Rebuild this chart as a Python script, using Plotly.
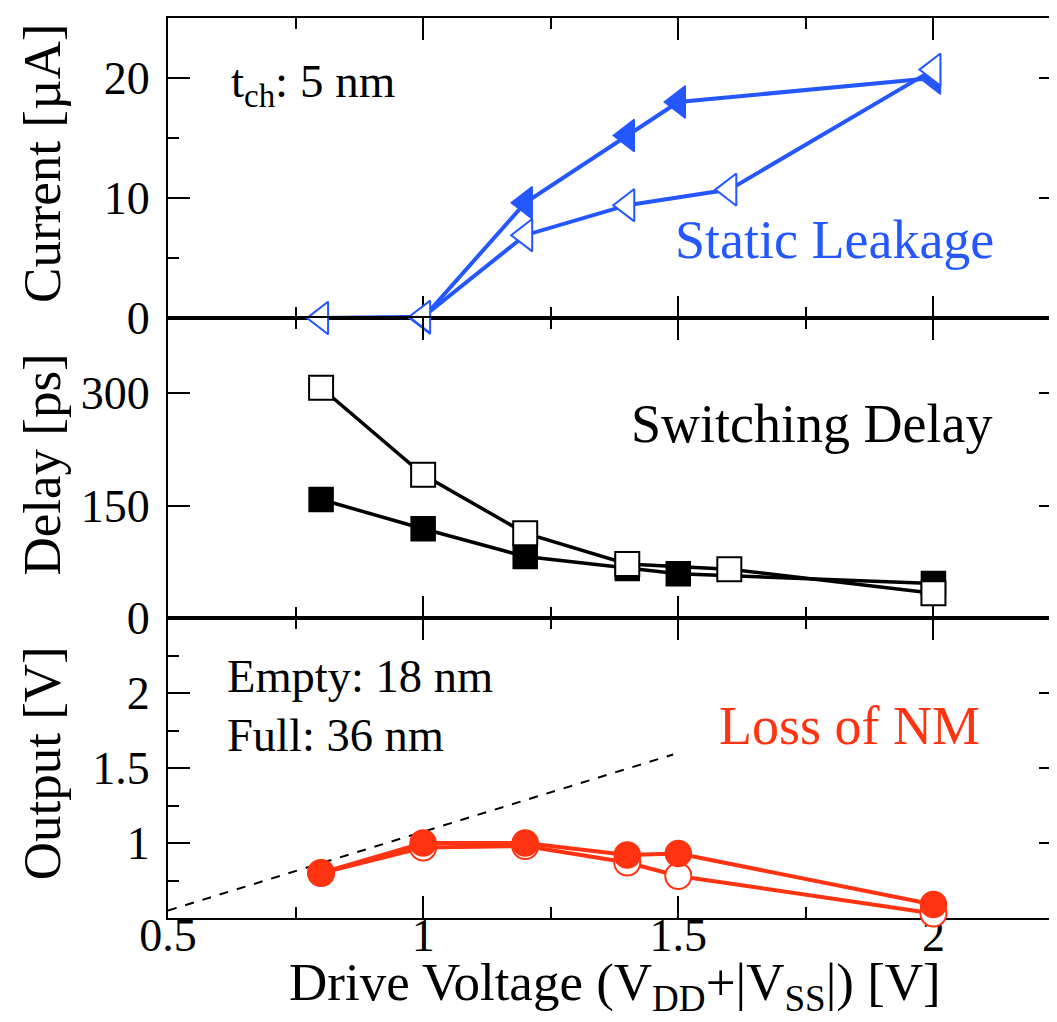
import plotly.graph_objects as go
from plotly.subplots import make_subplots

# ---- data ----
x_leak_filled = [0.8, 1.0, 1.2, 1.4, 1.5, 2.0]
leak_filled = [0.0, 0.0, 9.6, 15.2, 18.0, 20.0]
x_leak_open = [0.8, 1.0, 1.2, 1.4, 1.6, 2.0]
leak_open = [0.0, 0.1, 6.9, 9.4, 10.7, 20.7]

x_delay_filled = [0.8, 1.0, 1.2, 1.4, 1.5, 2.0]
delay_filled = [158, 119, 82, 66, 59, 46]
x_delay_open = [0.8, 1.0, 1.2, 1.4, 1.6, 2.0]
delay_open = [307, 191, 113, 72, 65, 33]

x_out = [0.8, 1.0, 1.2, 1.4, 1.5, 2.0]
out_filled = [0.80, 1.00, 1.00, 0.92, 0.93, 0.59]
out_open = [0.80, 0.97, 0.98, 0.87, 0.78, 0.53]

ref_x = [0.5, 1.49]
ref_y = [0.55, 1.59]

x_ticks = [0.5, 1, 1.5, 2]
x_tick_text = ["0.5", "1", "1.5", "2"]

BLUE = "#2457ff"
RED = "#ff3311"
FONT = "Liberation Serif, Times New Roman, serif"

fig = make_subplots(rows=3, cols=1, shared_xaxes=True, vertical_spacing=0)

# top: static leakage
fig.add_trace(go.Scatter(x=x_leak_filled, y=leak_filled, mode="lines+markers", cliponaxis=False,
                         line=dict(color=BLUE, width=4),
                         marker=dict(symbol="triangle-left", size=28, color=BLUE,
                                     line=dict(color=BLUE, width=1.5))), row=1, col=1)
fig.add_trace(go.Scatter(x=x_leak_open, y=leak_open, mode="lines+markers", cliponaxis=False,
                         line=dict(color=BLUE, width=4),
                         marker=dict(symbol="triangle-left", size=28, color="white",
                                     line=dict(color=BLUE, width=2))), row=1, col=1)

# middle: delay
fig.add_trace(go.Scatter(x=x_delay_filled, y=delay_filled, mode="lines+markers",
                         line=dict(color="black", width=3.5),
                         marker=dict(symbol="square", size=24, color="black",
                                     line=dict(color="black", width=1.5))), row=2, col=1)
fig.add_trace(go.Scatter(x=x_delay_open, y=delay_open, mode="lines+markers",
                         line=dict(color="black", width=3.5),
                         marker=dict(symbol="square", size=24, color="white",
                                     line=dict(color="black", width=2))), row=2, col=1)

# bottom: output
fig.add_trace(go.Scatter(x=ref_x, y=ref_y, mode="lines",
                         line=dict(color="black", width=2, dash="dash")), row=3, col=1)
fig.add_trace(go.Scatter(x=x_out, y=out_open, mode="lines+markers", cliponaxis=False,
                         line=dict(color=RED, width=4),
                         marker=dict(symbol="circle", size=26, color="white",
                                     line=dict(color=RED, width=2))), row=3, col=1)
fig.add_trace(go.Scatter(x=x_out, y=out_filled, mode="lines+markers", cliponaxis=False,
                         line=dict(color=RED, width=4),
                         marker=dict(symbol="circle", size=26, color=RED,
                                     line=dict(color=RED, width=1.5))), row=3, col=1)

axis_common = dict(showline=True, linecolor="black", linewidth=2, mirror="allticks",
                   ticks="inside", ticklen=22, tickwidth=2, tickcolor="black",
                   showgrid=False, zeroline=False, layer="below traces",
                   tickfont=dict(family=FONT, size=46, color="black"))

for r in (1, 2, 3):
    fig.update_xaxes(range=[0.5, 2.25], tickmode="array", tickvals=x_ticks,
                     ticktext=x_tick_text, ticklabelstandoff=-24,
                     minor=dict(dtick=0.25, tick0=0.5, ticks="inside", ticklen=11,
                                tickwidth=2, tickcolor="black"),
                     **axis_common, row=r, col=1)

fig.update_yaxes(range=[0, 25], tickmode="array", tickvals=[0, 10, 20], ticklabelstandoff=7,
                 minor=dict(tickmode="array", tickvals=[5, 15], ticks="inside", ticklen=11,
                            tickwidth=2, tickcolor="black"),
                 **axis_common, row=1, col=1)
fig.update_yaxes(range=[0, 400], tickmode="array", tickvals=[0, 150, 300], ticklabelstandoff=7,
                 **axis_common, row=2, col=1)
fig.update_yaxes(range=[0.5, 2.5], tickmode="array", tickvals=[1, 1.5, 2], ticklabelstandoff=7,
                 minor=dict(tickmode="array", tickvals=[0.75, 1.25, 1.75, 2.25],
                            ticks="inside", ticklen=11, tickwidth=2, tickcolor="black"),
                 **axis_common, row=3, col=1)

TITLE_X = -0.141
annos = [
    dict(text="Drive Voltage (V<sub>DD</sub>+|V<sub>SS</sub>|) [V]", xref="paper", yref="paper",
         x=0.5, y=-0.037, xanchor="center", yanchor="top", showarrow=False,
         font=dict(family=FONT, size=53, color="black")),
    dict(text="Current [µA]", xref="paper", yref="paper", x=TITLE_X, y=0.838,
         xanchor="center", yanchor="middle",
         textangle=-90, showarrow=False, font=dict(family=FONT, size=53, color="black")),
    dict(text="Delay [ps]", xref="paper", yref="paper", x=TITLE_X, y=0.504,
         xanchor="center", yanchor="middle",
         textangle=-90, showarrow=False, font=dict(family=FONT, size=53, color="black")),
    dict(text="Output [V]", xref="paper", yref="paper", x=TITLE_X, y=0.172,
         xanchor="center", yanchor="middle",
         textangle=-90, showarrow=False, font=dict(family=FONT, size=53, color="black")),
    dict(text="t<sub>ch</sub>: 5 nm", xref="x", yref="y", x=0.62, y=19.5,
         xanchor="left", showarrow=False, font=dict(family=FONT, size=47, color="black")),
    dict(text="Static Leakage", xref="x", yref="y", x=1.806, y=6.5,
         showarrow=False, font=dict(family=FONT, size=54, color=BLUE)),
    dict(text="Switching Delay", xref="x2", yref="y2", x=1.762, y=259,
         showarrow=False, font=dict(family=FONT, size=54, color="black")),
    dict(text="Empty: 18 nm", xref="x3", yref="y3", x=0.612, y=2.11,
         xanchor="left", showarrow=False, font=dict(family=FONT, size=46.5, color="black")),
    dict(text="Full: 36 nm", xref="x3", yref="y3", x=0.612, y=1.72,
         xanchor="left", showarrow=False, font=dict(family=FONT, size=46.5, color="black")),
    dict(text="Loss of NM", xref="x3", yref="y3", x=1.835, y=1.78,
         showarrow=False, font=dict(family=FONT, size=54, color=RED)),
]

fig.update_layout(width=1057, height=1022, showlegend=False,
                  margin=dict(l=160, r=2, t=10, b=112),
                  plot_bgcolor="white", paper_bgcolor="white",
                  font=dict(family=FONT, color="black"),
                  annotations=annos)

fig.write_html("out.html")
